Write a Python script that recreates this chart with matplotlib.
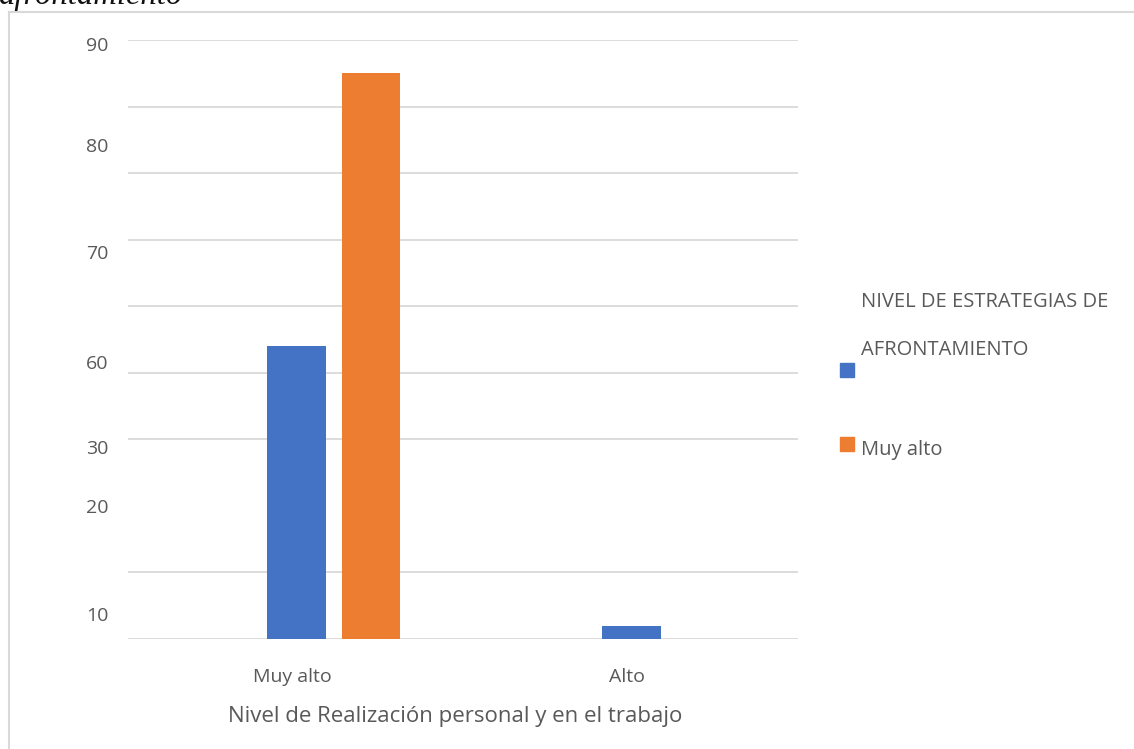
import numpy as np
import matplotlib.pyplot as plt
from matplotlib.lines import Line2D
from matplotlib.patches import Rectangle

# Datos
categorias = ['Muy alto', 'Alto']
serie_azul = [44, 2]
serie_naranja = [85, 0]
etiquetas_y = ['90', '80', '70', '60', '30', '20', '10']
posiciones_y = [89.4, 74.2, 58.1, 41.6, 28.8, 20.0, 3.8]

AZUL = '#4472C4'
NARANJA = '#ED7D31'
GRIS_TXT = '#595959'
GRIS_LIN = '#D9D9D9'

plt.rcParams['font.family'] = ['Open Sans', 'DejaVu Sans']

fig = plt.figure(figsize=(11.34, 7.49), dpi=100)
W, H = 1134, 749
ax = fig.add_axes([128 / W, 1 - 639 / H, 670 / W, 599 / H])

x = np.arange(len(categorias))
ancho = 0.175
ax.bar(x + 0.003, serie_azul, ancho, color=AZUL, zorder=3)
ax.bar(x + 0.225, serie_naranja, ancho, color=NARANJA, zorder=3)

ax.set_xlim(-0.5, 1.5)
ax.set_ylim(0, 90)

# líneas de cuadrícula cada 10
ax.set_yticks(np.arange(0, 91, 10), minor=True)
ax.grid(True, which='minor', axis='y', color=GRIS_LIN, linewidth=1.3, zorder=0)
ax.tick_params(axis='y', which='minor', length=0)

# etiquetas del eje y
ax.set_yticks(posiciones_y, labels=etiquetas_y)
ax.tick_params(axis='y', which='major', length=0, pad=14,
               labelsize=14, labelcolor=GRIS_TXT)

ax.set_xticks(x - 0.01, labels=categorias)
ax.tick_params(axis='x', length=0, pad=21, labelsize=14, labelcolor=GRIS_TXT)
ax.set_xlabel('Nivel de Realización personal y en el trabajo',
              fontsize=16, color=GRIS_TXT, labelpad=14)
ax.xaxis.label.set_x(0.5 - 8 / 670)

for s in ax.spines.values():
    s.set_visible(False)

# leyenda manual
fig.patches.append(Rectangle((840 / W, 1 - 377 / H), 14 / W, 14 / H,
                             color=AZUL, transform=fig.transFigure))
fig.patches.append(Rectangle((840 / W, 1 - 451 / H), 14 / W, 14 / H,
                             color=NARANJA, transform=fig.transFigure))
fig.text(861 / W, 1 - 302 / H, 'NIVEL DE ESTRATEGIAS DE', fontsize=14.5,
         color=GRIS_TXT, va='center', ha='left')
fig.text(861 / W, 1 - 350 / H, 'AFRONTAMIENTO', fontsize=14.5,
         color=GRIS_TXT, va='center', ha='left')
fig.text(861 / W, 1 - 450 / H, 'Muy alto', fontsize=14.5,
         color=GRIS_TXT, va='center', ha='left')

# marco del gráfico
fig.add_artist(Line2D([8.5 / W, 8.5 / W], [0, 1 - 11.5 / H], color=GRIS_LIN,
                      linewidth=1.5, transform=fig.transFigure))
fig.add_artist(Line2D([8.5 / W, 1], [1 - 11.5 / H, 1 - 11.5 / H], color=GRIS_LIN,
                      linewidth=1.5, transform=fig.transFigure))

# título cortado en la parte superior
fig.text(-2 / W, 1 - 4 / H, 'afrontamiento', fontsize=23.5, style='italic',
         family='Liberation Serif', color='#111111', va='baseline', ha='left')

fig.savefig('out.png', dpi=100, facecolor='white')
